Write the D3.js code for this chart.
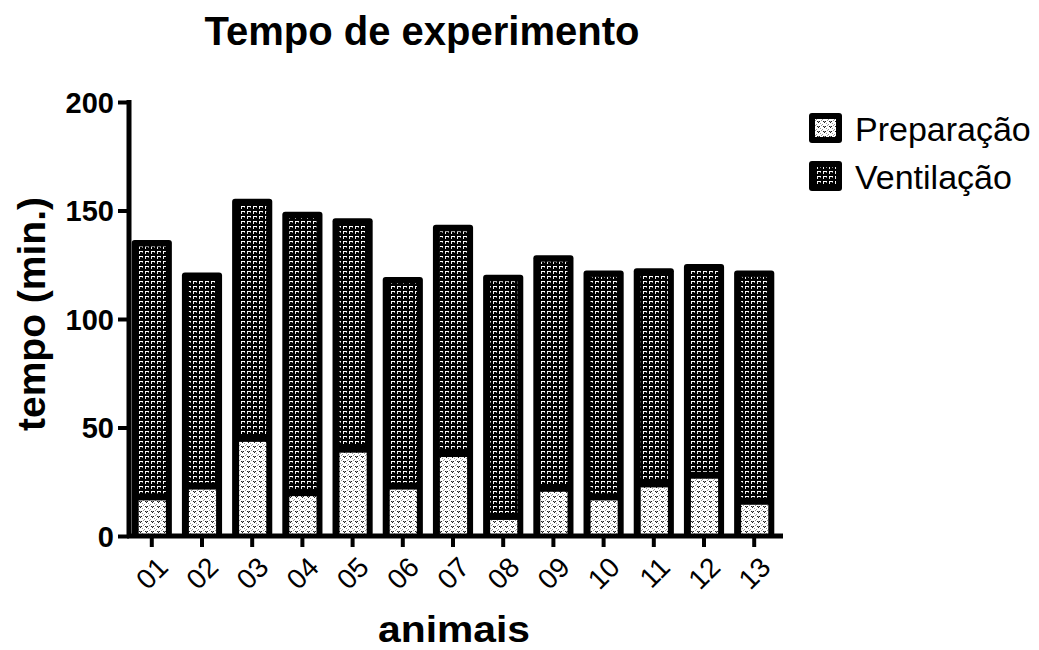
<!DOCTYPE html>
<html>
<head>
<meta charset="utf-8">
<script src="https://cdn.jsdelivr.net/npm/d3@7"></script>
<style>
  html, body { margin: 0; padding: 0; background: #fff; }
  svg { display: block; font-family: "Liberation Sans", Arial, sans-serif; }
</style>
</head>
<body>
<svg id="chart" width="1039" height="650"></svg>
<script>
const animals = ["01","02","03","04","05","06","07","08","09","10","11","12","13"];
const preparacao = [18, 23, 45, 20, 40, 23, 38, 9, 22, 18, 24, 28, 16];
const ventilacao = [117, 97, 109, 128, 105, 95, 104, 110, 106, 103, 98, 96, 105];
const yTicks = [0, 50, 100, 150, 200];
const seriesNames = ["Preparação", "Ventilação"];

const svg = d3.select("#chart");
const defs = svg.append("defs");

// Preparação pattern: white with small dark "v" dots
const p1 = defs.append("pattern").attr("id", "patPrep")
  .attr("patternUnits", "userSpaceOnUse").attr("width", 6).attr("height", 5);
p1.append("rect").attr("width", 6).attr("height", 5).attr("fill", "#fff");
[[1,1],[3,1],[2,2]].forEach(([a,b]) =>
  p1.append("rect").attr("x", a).attr("y", b).attr("width", 1).attr("height", 1).attr("fill", "#222"));
[[2,1],[0,4],[4,3],[5,0]].forEach(([a,b]) =>
  p1.append("rect").attr("x", a).attr("y", b).attr("width", 1).attr("height", 1).attr("fill", "#999"));

// Ventilação pattern: black with white "Γ" marks
const p2 = defs.append("pattern").attr("id", "patVent")
  .attr("patternUnits", "userSpaceOnUse").attr("width", 6).attr("height", 5);
p2.append("rect").attr("width", 6).attr("height", 5).attr("fill", "#000");
p2.append("rect").attr("x", 1).attr("y", 1).attr("width", 4).attr("height", 1).attr("fill", "#fff");
p2.append("rect").attr("x", 1).attr("y", 2).attr("width", 1).attr("height", 2).attr("fill", "#eee");
p2.append("rect").attr("x", 4).attr("y", 2).attr("width", 1).attr("height", 1).attr("fill", "#888");

const x = d3.scaleBand().domain(animals).range([129, 777]).paddingInner(0.2).paddingOuter(0.054);
const y = d3.scaleLinear().domain([0, 200]).range([536, 102]);
const bw = x.bandwidth();

const bars = svg.append("g");
animals.forEach((a, i) => {
  const prep = preparacao[i];
  const tot = prep + ventilacao[i];
  const g = bars.append("g");
  g.append("rect").attr("x", x(a)).attr("width", bw)
    .attr("y", y(tot) - 3).attr("height", y(0) - y(tot) + 3)
    .attr("rx", 3).attr("fill", "#000");
  g.append("rect").attr("x", x(a) + 7).attr("width", bw - 13)
    .attr("y", y(tot) + 3.5).attr("height", Math.max(0, y(prep) - 3.5 - (y(tot) + 3.5)))
    .attr("fill", "url(#patVent)");
  g.append("rect").attr("x", x(a) + 7).attr("width", bw - 13)
    .attr("y", y(prep) + 3.5).attr("height", Math.max(0, y(0) - (y(prep) + 3.5)))
    .attr("fill", "url(#patPrep)");
});

// Y axis
const yAxis = svg.append("g").attr("transform", "translate(129,0)")
  .call(d3.axisLeft(y).tickValues(yTicks).tickSize(11).tickSizeOuter(0).tickPadding(4));
yAxis.select(".domain").remove();
yAxis.selectAll(".tick line").attr("stroke", "#000").attr("stroke-width", 4);
yAxis.selectAll(".tick text").attr("font-size", 29).attr("font-weight", "bold")
  .attr("fill", "#000").attr("font-family", "Liberation Sans, Arial, sans-serif").attr("dy", "0.36em");
svg.append("line").attr("x1", 129).attr("x2", 129).attr("y1", y(200) - 2).attr("y2", y(0) + 2)
  .attr("stroke", "#000").attr("stroke-width", 5);

// X axis
const xAxis = svg.append("g").attr("transform", `translate(0,${y(0)})`)
  .call(d3.axisBottom(x).tickSize(11).tickSizeOuter(0));
xAxis.select(".domain").remove();
xAxis.selectAll(".tick line").attr("stroke", "#000").attr("stroke-width", 4);
xAxis.selectAll(".tick text")
  .attr("font-size", 28).attr("fill", "#000")
  .attr("font-family", "Liberation Sans, Arial, sans-serif")
  .attr("text-anchor", "end").attr("dy", null).attr("y", 0)
  .attr("transform", "translate(18,33) rotate(-45)");
svg.append("line").attr("x1", 127).attr("x2", 783).attr("y1", y(0)).attr("y2", y(0))
  .attr("stroke", "#000").attr("stroke-width", 5);

// Titles
svg.append("text").attr("x", 422).attr("y", 45).attr("text-anchor", "middle")
  .attr("font-size", 40).attr("font-weight", "bold").text("Tempo de experimento");
svg.append("text").attr("transform", "translate(45,314) rotate(-90)").attr("text-anchor", "middle")
  .attr("font-size", 39).attr("font-weight", "bold").text("tempo (min.)");
svg.append("text").attr("x", 454).attr("y", 642).attr("text-anchor", "middle")
  .attr("font-size", 37).attr("font-weight", "bold")
  .attr("textLength", 152).attr("lengthAdjust", "spacingAndGlyphs").text("animais");

// Legend
const legend = svg.append("g");
["url(#patPrep)", "url(#patVent)"].forEach((f, i) => {
  const ly = 113 + i * 48;
  legend.append("rect").attr("x", 809).attr("y", ly).attr("width", 33).attr("height", 30)
    .attr("rx", 3).attr("fill", "#000");
  legend.append("rect").attr("x", 815).attr("y", ly + 6).attr("width", 21).attr("height", 18)
    .attr("fill", f);
  legend.append("text").attr("x", 855).attr("y", ly + 28).attr("font-size", 34)
    .attr("fill", "#000").text(seriesNames[i]);
});
</script>
</body>
</html>
